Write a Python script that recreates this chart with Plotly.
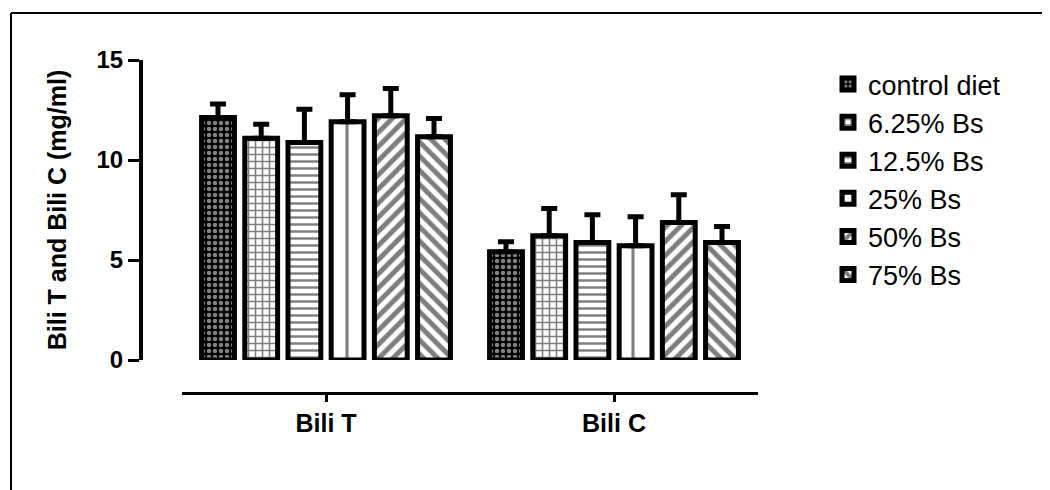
import plotly.graph_objects as go

categories = ["Bili T", "Bili C"]
groups = ["control diet", "6.25% Bs", "12.5% Bs", "25% Bs", "50% Bs", "75% Bs"]
# mean values per group: [Bili T, Bili C]
means = {
    "control diet": [12.13, 5.41],
    "6.25% Bs": [11.09, 6.21],
    "12.5% Bs": [10.88, 5.88],
    "25% Bs": [11.91, 5.71],
    "50% Bs": [12.21, 6.88],
    "75% Bs": [11.16, 5.88],
}
errors = {
    "control diet": [0.67, 0.50],
    "6.25% Bs": [0.70, 1.37],
    "12.5% Bs": [1.66, 1.38],
    "25% Bs": [1.35, 1.45],
    "50% Bs": [1.37, 1.38],
    "75% Bs": [0.92, 0.80],
}
y_ticks = [0, 5, 10, 15]

patterns = {
    "control diet": dict(shape=".", bgcolor="black", fgcolor="white", size=6, solidity=0.45, fillmode="overlay"),
    "6.25% Bs": dict(shape="+", bgcolor="white", fgcolor="black", size=7, solidity=0.4, fillmode="overlay"),
    "12.5% Bs": dict(shape="-", bgcolor="white", fgcolor="black", size=7, solidity=0.35, fillmode="overlay"),
    "25% Bs": dict(shape="|", bgcolor="white", fgcolor="black", size=22, solidity=0.14, fillmode="overlay"),
    "50% Bs": dict(shape="/", bgcolor="white", fgcolor="black", size=10, solidity=0.5, fillmode="overlay"),
    "75% Bs": dict(shape="\\", bgcolor="white", fgcolor="black", size=10, solidity=0.5, fillmode="overlay"),
}

FONT = "Liberation Sans, Arial, sans-serif"

fig = go.Figure()
for g in groups:
    fig.add_trace(go.Bar(
        name=g,
        x=categories,
        y=means[g],
        marker=dict(color="white", line=dict(color="black", width=5), pattern=patterns[g]),
        error_y=dict(type="data", array=errors[g], arrayminus=[0] * len(categories),
                     symmetric=False, color="black", thickness=5, width=8),
    ))

OFF = 8  # page body margin
W, H = 1050 - OFF, 490 - OFF
L, R, T, B = 141 - OFF, 292, 60 - OFF, 97
PW, PH = W - L - R, H - T - B


def px(xp):
    return (xp - OFF - L) / PW


def py(yp):
    return (H - B - (yp - OFF)) / PH


fig.update_layout(
    width=W, height=H,
    margin=dict(l=L, r=R, t=T, b=B),
    paper_bgcolor="white", plot_bgcolor="white",
    barmode="group", bargap=0.1, bargroupgap=0.24,
    font=dict(family=FONT, color="black"),
    showlegend=True,
    legend=dict(x=px(828), y=py(60), xanchor="left", yanchor="top",
                font=dict(size=27, family=FONT, color="black"),
                tracegroupgap=0, bgcolor="rgba(0,0,0,0)"),
    xaxis=dict(domain=[px(182), 1], anchor="free", position=0, range=[-0.5, 1.5],
               showline=True, linecolor="black", linewidth=3,
               ticks="outside", ticklen=7, tickwidth=3, tickcolor="black",
               tickfont=dict(size=25, family=FONT, color="black", weight="bold"),
               showgrid=False, zeroline=False, fixedrange=True),
    yaxis=dict(domain=[py(360), 1], anchor="free", position=0, range=[0, 15],
               tickvals=y_ticks, showline=True, linecolor="black", linewidth=4,
               ticks="outside", ticklen=11, tickwidth=3, tickcolor="black",
               tickfont=dict(size=24, family=FONT, color="black", weight="bold"),
               title=dict(text="Bili T and Bili C (mg/ml)", standoff=22,
                          font=dict(size=25, family=FONT, color="black", weight="bold")),
               showgrid=False, zeroline=False, fixedrange=True),
    shapes=[
        dict(type="line", xref="paper", yref="paper", x0=px(11), x1=px(1060), y0=py(13), y1=py(13),
             line=dict(color="black", width=2)),
        dict(type="line", xref="paper", yref="paper", x0=px(11), x1=px(11), y0=py(13), y1=py(500),
             line=dict(color="black", width=2)),
    ],
)

fig.write_html("out.html")
